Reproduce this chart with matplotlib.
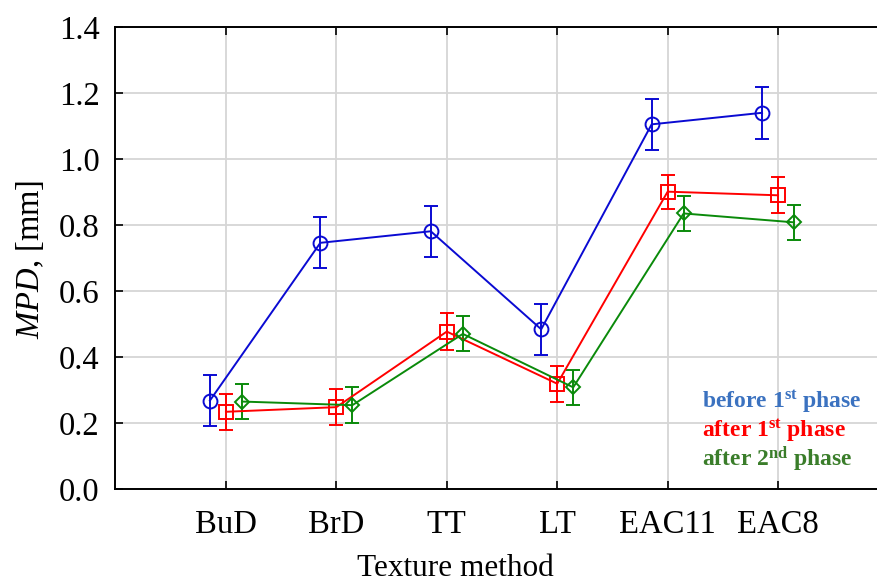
import matplotlib
matplotlib.use("Agg")
import matplotlib.pyplot as plt
import numpy as np

categories = ["BuD", "BrD", "TT", "LT", "EAC11", "EAC8"]
before1 = [0.268, 0.746, 0.781, 0.484, 1.105, 1.140]
before1_err = [0.077, 0.077, 0.078, 0.077, 0.077, 0.078]
after1 = [0.234, 0.248, 0.477, 0.319, 0.901, 0.890]
after1_err = [0.054, 0.055, 0.055, 0.055, 0.052, 0.054]
after2 = [0.265, 0.254, 0.470, 0.308, 0.835, 0.808]
after2_err = [0.054, 0.054, 0.053, 0.054, 0.052, 0.054]
yticks = [0.0, 0.2, 0.4, 0.6, 0.8, 1.0, 1.2, 1.4]

plt.rcParams['font.family'] = ['Liberation Serif', 'DejaVu Serif']
plt.rcParams['mathtext.fontset'] = 'custom'
plt.rcParams['mathtext.rm'] = 'Liberation Serif'
plt.rcParams['mathtext.it'] = 'Liberation Serif:italic'
plt.rcParams['mathtext.bf'] = 'Liberation Serif:bold'

W, H = 878, 585
fig = plt.figure(figsize=(W / 100, H / 100), dpi=100)
left, right, top, bottom = 115.5, 888.5, 27, 489
ax = fig.add_axes([left / W, 1 - bottom / H, (right - left) / W, (bottom - top) / H])

x = np.arange(1, len(categories) + 1)
off = 0.145
series = [
    (before1, before1_err, -off, "#0a0ad2", "o", 10),
    (after1, after1_err, 0.0, "#ff0000", "s", 9.5),
    (after2, after2_err, off, "#0a8a0a", "D", 7.5),
]
for vals, err, dx, col, mk, ms in series:
    ax.errorbar(x + dx, vals, yerr=err, color=col, marker=mk, markersize=ms,
                markerfacecolor='none', markeredgecolor=col, markeredgewidth=1.4,
                linewidth=1.4, elinewidth=1.4, capsize=5, capthick=1.4, zorder=3)

ax.set_xlim(0, 7)
ax.set_ylim(0, 1.4)
ax.set_xticks(x)
ax.set_xticklabels(categories)
ax.set_yticks(yticks)
ax.set_yticklabels([f"{v:.1f}" for v in yticks])
ax.grid(True, color="#d6d6d6", linewidth=1.3, zorder=0)
ax.set_axisbelow(True)
ax.tick_params(axis='both', direction='in', labelsize=23.5, length=6, width=1.2)
ax.tick_params(axis='x', top=True, pad=15)
ax.tick_params(axis='y', pad=11.5)
for s in ax.spines.values():
    s.set_linewidth(1.4)

fig.text(30 / W, 1 - 259 / H, r"$MPD$, [mm]", rotation=90, ha='center', va='center', fontsize=23.5)
fig.text(455 / W, 2 / H, "Texture method", ha='center', va='bottom', fontsize=22.5)

lx = 702 / W
fig.text(lx, 1 - 402 / H, r"before 1$^{\mathbf{st}}$ phase", color="#3b72c0",
         fontsize=17, fontweight='bold', va='center', ha='left')
fig.text(lx, 1 - 431 / H, r"after 1$^{\mathbf{st}}$ phase", color="#ff0000",
         fontsize=17, fontweight='bold', va='center', ha='left')
fig.text(lx, 1 - 459 / H, r"after 2$^{\mathbf{nd}}$ phase", color="#3a7d2a",
         fontsize=17, fontweight='bold', va='center', ha='left')

fig.savefig("out.png", dpi=100)
